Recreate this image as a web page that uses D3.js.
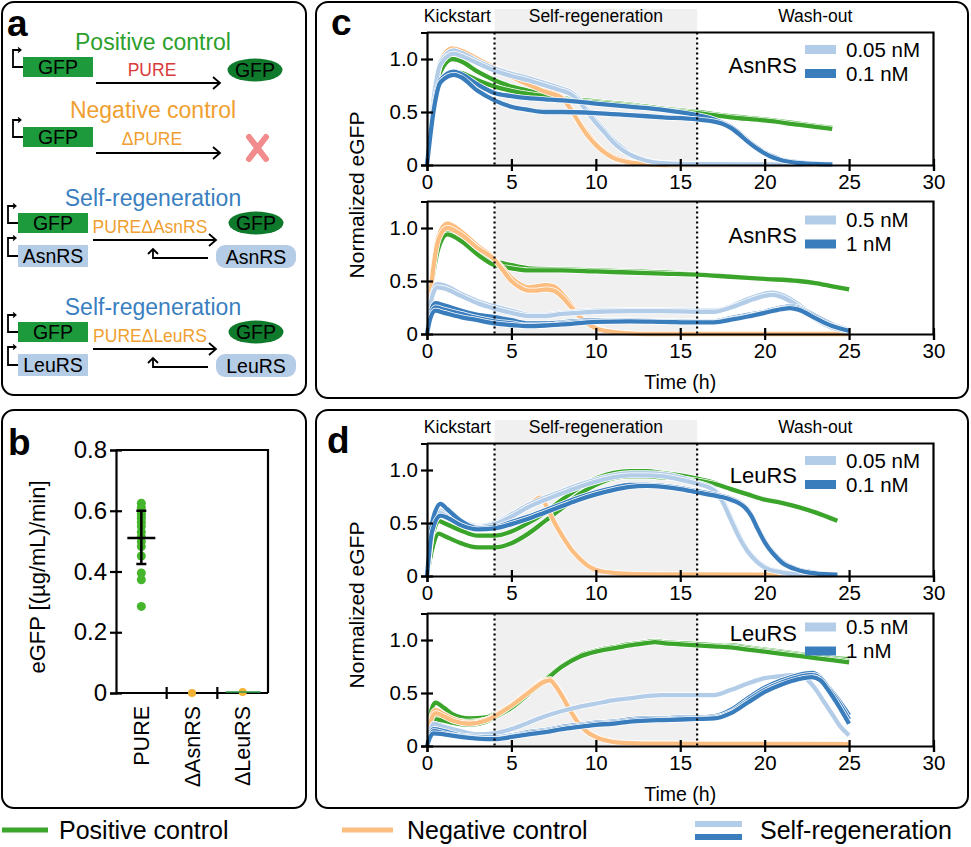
<!DOCTYPE html>
<html><head><meta charset="utf-8">
<script src="https://cdn.jsdelivr.net/npm/d3@7"></script>
<style>body{margin:0;background:#fff} svg{display:block;font-family:"Liberation Sans",Arial,Helvetica,sans-serif}</style>
</head><body><svg id="fig" width="971" height="847"></svg>
<script>
// ---------------- DATA ----------------
const xTicks = [0,5,10,15,20,25,30];
const yTicks = [0,0.5,1.0];
const phaseLabels = ["Kickstart","Self-regeneration","Wash-out"];
const phaseCenters = [1.8,10,23];
const phaseBounds = [4,16];

// panel b
const bCategories = ["PURE","\u0394AsnRS","\u0394LeuRS"];
const bTicks = [0,0.2,0.4,0.6,0.8];
const bPureDots = [0.625,0.611,0.592,0.583,0.575,0.562,0.548,0.53,0.515,0.498,0.482,0.451,0.395,0.373,0.285];
const bPureMean = 0.51, bPureSdLow = 0.425, bPureSdHigh = 0.6;
const bNegDots = [0,0.003];

// panel c top (AsnRS 0.05 / 0.1 nM)
const cTopPos = [
 [[0,0],[0.4,0.6],[0.8,0.88],[1.5,1.0],[2,0.98],[3,0.88],[4,0.8],[5,0.74],[6,0.70],[7,0.66],[8,0.63],[10,0.6],[12,0.57],[14,0.53],[16,0.5],[18,0.46],[20,0.43],[22,0.39],[24,0.35]],
 [[0,0],[0.4,0.55],[0.8,0.8],[1.6,0.88],[2,0.87],[3,0.8],[4,0.74],[5,0.70],[6,0.67],[7,0.65],[8,0.62],[10,0.59],[12,0.56],[14,0.52],[16,0.49],[18,0.45],[20,0.42],[22,0.38],[24,0.34]]];
const cTopNeg = [
 [[0,0],[0.4,0.65],[0.8,0.98],[1.5,1.1],[2,1.08],[3,1.0],[4,0.92],[5,0.85],[6,0.77],[7,0.70],[8,0.64],[8.5,0.54],[9,0.41],[9.5,0.3],[10,0.2],[10.5,0.13],[11,0.08],[12,0.03],[13,0.01],[14,0],[24,0]],
 [[0,0],[0.4,0.62],[0.8,0.95],[1.5,1.07],[2,1.05],[3,0.97],[4,0.9],[5,0.83],[6,0.76],[7,0.69],[8,0.63],[8.5,0.53],[9,0.4],[9.5,0.28],[10,0.19],[10.5,0.12],[11,0.07],[12,0.025],[13,0.008],[14,0],[24,0]]];
const cTopLight = [
 [[0,0],[0.4,0.65],[0.8,0.97],[1.6,1.08],[2,1.06],[3,0.98],[4,0.91],[5,0.86],[6,0.82],[7,0.77],[8,0.72],[8.5,0.69],[9,0.62],[9.5,0.52],[10,0.42],[10.5,0.33],[11,0.24],[11.5,0.17],[12,0.11],[12.5,0.07],[13,0.045],[14,0.02],[16,0.01],[24,0.005]],
 [[0,0],[0.4,0.63],[0.8,0.95],[1.6,1.05],[2,1.03],[3,0.96],[4,0.89],[5,0.84],[6,0.8],[7,0.75],[8,0.7],[8.5,0.67],[9,0.6],[9.5,0.5],[10,0.4],[10.5,0.31],[11,0.22],[11.5,0.15],[12,0.1],[12.5,0.065],[13,0.04],[14,0.018],[16,0.008],[24,0.004]]];
const cTopDark = [
 [[0,0],[0.4,0.55],[0.8,0.8],[1.6,0.88],[2,0.86],[3,0.76],[4,0.68],[5,0.65],[6,0.63],[7,0.62],[8,0.61],[10,0.58],[12,0.55],[14,0.52],[16,0.47],[17,0.43],[17.5,0.40],[18,0.36],[18.5,0.3],[19,0.23],[19.5,0.17],[20,0.12],[20.5,0.08],[21,0.05],[22,0.025],[23,0.012],[24,0.008]],
 [[0,0],[0.4,0.52],[0.8,0.78],[1.6,0.85],[2,0.83],[3,0.7],[4,0.61],[5,0.55],[6,0.52],[7,0.5],[8,0.5],[10,0.49],[12,0.47],[14,0.45],[16,0.43],[17,0.41],[17.5,0.39],[18,0.35],[18.5,0.29],[19,0.22],[19.5,0.16],[20,0.11],[20.5,0.07],[21,0.045],[22,0.02],[23,0.01],[24,0.005]]];

// panel c bottom (AsnRS 0.5 / 1 nM)
const cBotPos = [
 [[0,0],[0.3,0.5],[0.7,0.85],[1.2,0.97],[2,0.9],[3,0.78],[4,0.69],[5,0.65],[6,0.62],[8,0.61],[10,0.6],[12,0.59],[14,0.58],[16,0.56],[18,0.54],[20,0.52],[22,0.5],[23,0.48],[24,0.45],[25,0.42]],
 [[0,0],[0.3,0.48],[0.7,0.82],[1.2,0.94],[2,0.88],[3,0.75],[4,0.65],[5,0.62],[6,0.6],[8,0.6],[10,0.59],[12,0.58],[14,0.57],[16,0.56],[18,0.54],[20,0.52],[22,0.5],[23,0.48],[24,0.45],[25,0.42]]];
const cBotNeg = [
 [[0,0],[0.3,0.55],[0.7,0.93],[1.2,1.04],[2,0.97],[3,0.83],[4,0.71],[4.5,0.62],[5,0.53],[5.5,0.47],[6,0.44],[6.5,0.45],[7,0.46],[7.5,0.45],[8,0.38],[8.5,0.28],[9,0.18],[9.5,0.11],[10,0.06],[11,0.02],[12,0.005],[13,0],[25,0]],
 [[0,0],[0.3,0.52],[0.7,0.9],[1.2,1.0],[2,0.94],[3,0.81],[4,0.7],[4.5,0.6],[5,0.5],[5.5,0.44],[6,0.41],[6.5,0.41],[7,0.42],[7.5,0.41],[8,0.35],[8.5,0.26],[9,0.17],[9.5,0.1],[10,0.055],[11,0.02],[12,0.005],[13,0],[25,0]]];
const cBotLight = [
 [[0,0],[0.2,0.3],[0.6,0.47],[1,0.46],[2,0.38],[3,0.31],[4,0.26],[5,0.22],[6,0.18],[7,0.18],[8,0.2],[9,0.21],[10,0.22],[12,0.225],[14,0.225],[16,0.22],[17,0.22],[18,0.26],[19,0.33],[20,0.38],[20.5,0.39],[21,0.37],[22,0.28],[23,0.15],[24,0.07],[25,0.03]],
 [[0,0],[0.2,0.28],[0.6,0.44],[1,0.43],[2,0.36],[3,0.29],[4,0.24],[5,0.2],[6,0.17],[7,0.17],[8,0.19],[9,0.2],[10,0.21],[12,0.215],[14,0.215],[16,0.21],[17,0.21],[18,0.25],[19,0.31],[20,0.36],[20.5,0.37],[21,0.35],[22,0.26],[23,0.14],[24,0.06],[25,0.025]]];
const cBotDark = [
 [[0,0],[0.2,0.2],[0.5,0.29],[1,0.27],[2,0.22],[3,0.18],[4,0.16],[5,0.13],[6,0.1],[7,0.1],[8,0.11],[10,0.13],[12,0.13],[14,0.12],[16,0.12],[17,0.12],[18,0.15],[19,0.18],[20,0.21],[21,0.25],[21.5,0.26],[22,0.25],[23,0.17],[24,0.09],[25,0.04]],
 [[0,0],[0.2,0.17],[0.5,0.25],[1,0.23],[2,0.19],[3,0.15],[4,0.12],[5,0.1],[6,0.08],[7,0.08],[8,0.1],[10,0.12],[12,0.125],[14,0.12],[16,0.115],[17,0.115],[18,0.14],[19,0.17],[20,0.2],[21,0.24],[21.5,0.25],[22,0.24],[23,0.16],[24,0.08],[25,0.035]],
 [[0,0],[0.2,0.15],[0.5,0.22],[1,0.2],[2,0.16],[3,0.13],[4,0.1],[5,0.085],[6,0.075],[7,0.08],[8,0.09],[10,0.115],[12,0.12],[14,0.115],[16,0.11],[17,0.11],[18,0.135],[19,0.165],[20,0.2],[21,0.235],[21.5,0.245],[22,0.23],[23,0.15],[24,0.075],[25,0.03]]];

// panel d top (LeuRS 0.05 / 0.1 nM)
const dTopPos = [
 [[0,0],[0.3,0.35],[0.7,0.52],[1,0.5],[2,0.43],[3,0.38],[4,0.38],[5,0.42],[6,0.5],[7,0.6],[8,0.72],[9,0.83],[10,0.92],[11,0.97],[12,0.99],[13,0.99],[14,0.97],[15,0.95],[16,0.92],[17,0.88],[18,0.82],[19,0.77],[20,0.72],[21,0.69],[22,0.65],[23,0.6],[24.3,0.52]],
 [[0,0],[0.3,0.25],[0.7,0.4],[1,0.38],[2,0.31],[3,0.27],[4,0.27],[5,0.31],[6,0.4],[7,0.52],[8,0.64],[9,0.77],[10,0.86],[11,0.92],[12,0.94],[13,0.94],[14,0.93],[15,0.92],[16,0.9],[17,0.87],[18,0.82],[19,0.77],[20,0.72],[21,0.69],[22,0.65],[23,0.6],[24.3,0.52]]];
const dTopNeg = [
 [[0,0],[0.3,0.4],[0.7,0.6],[1,0.58],[2,0.5],[3,0.46],[4,0.48],[5,0.56],[6,0.66],[6.7,0.74],[7,0.68],[7.5,0.52],[8,0.38],[8.5,0.26],[9,0.17],[9.5,0.1],[10,0.06],[11,0.03],[12,0.02],[14,0.015],[24.3,0.01]]];
const dTopLight = [
 [[0,0],[0.3,0.45],[0.7,0.62],[1,0.6],[2,0.52],[3,0.47],[4,0.5],[5,0.58],[6,0.67],[7,0.74],[8,0.8],[9,0.86],[10,0.91],[11,0.95],[12,0.97],[13,0.97],[14,0.96],[15,0.93],[16,0.88],[17,0.82],[17.5,0.72],[18,0.55],[18.5,0.38],[19,0.24],[19.5,0.15],[20,0.09],[21,0.04],[22,0.02],[23,0.01],[24.3,0.005]],
 [[0,0],[0.3,0.42],[0.7,0.6],[1,0.58],[2,0.5],[3,0.46],[4,0.49],[5,0.56],[6,0.65],[7,0.72],[8,0.78],[9,0.84],[10,0.89],[11,0.93],[12,0.95],[13,0.95],[14,0.94],[15,0.91],[16,0.87],[17,0.81],[17.5,0.7],[18,0.53],[18.5,0.36],[19,0.23],[19.5,0.14],[20,0.08],[21,0.035],[22,0.015],[23,0.008],[24.3,0.004]]];
const dTopDark = [
 [[0,0],[0.3,0.5],[0.8,0.68],[1.2,0.63],[2,0.52],[3,0.45],[4,0.46],[5,0.51],[6,0.56],[7,0.62],[8,0.68],[9,0.74],[10,0.79],[11,0.83],[12,0.86],[13,0.86],[14,0.85],[15,0.83],[16,0.8],[17,0.77],[18,0.73],[18.8,0.66],[19.2,0.58],[19.6,0.45],[20,0.33],[20.5,0.22],[21,0.14],[22,0.06],[23,0.03],[24.3,0.015]],
 [[0,0],[0.3,0.42],[0.8,0.57],[1.2,0.55],[2,0.48],[3,0.44],[4,0.45],[5,0.49],[6,0.54],[7,0.6],[8,0.66],[9,0.72],[10,0.77],[11,0.81],[12,0.84],[13,0.85],[14,0.84],[15,0.82],[16,0.79],[17,0.76],[18,0.72],[18.8,0.65],[19.2,0.57],[19.6,0.44],[20,0.32],[20.5,0.21],[21,0.13],[22,0.055],[23,0.025],[24.3,0.012]]];

// panel d bottom (LeuRS 0.5 / 1 nM)
const dBotPos = [
 [[0,0],[0.2,0.3],[0.5,0.41],[1,0.36],[1.5,0.3],[2.5,0.26],[3.5,0.27],[4,0.3],[5,0.38],[6,0.5],[7,0.63],[8,0.76],[9,0.85],[10,0.9],[11,0.93],[12,0.96],[13,0.98],[13.5,0.99],[14,0.98],[15,0.97],[16,0.96],[17,0.95],[18,0.95],[19,0.93],[20,0.91],[21,0.89],[22,0.87],[23,0.85],[24,0.83],[25,0.82]],
 [[0,0],[0.2,0.2],[0.5,0.28],[1,0.27],[1.5,0.25],[2.5,0.23],[3.5,0.25],[4,0.28],[5,0.37],[6,0.5],[7,0.63],[8,0.76],[9,0.85],[10,0.9],[11,0.93],[12,0.96],[13,0.98],[13.5,0.99],[14,0.98],[15,0.97],[16,0.96],[17,0.95],[18,0.94],[19,0.92],[20,0.9],[21,0.88],[22,0.86],[23,0.84],[24,0.82],[25,0.8]],
 [[0,0],[0.2,0.17],[0.5,0.25],[1,0.24],[1.5,0.22],[2.5,0.2],[3.5,0.23],[4,0.27],[5,0.36],[6,0.49],[7,0.62],[8,0.75],[9,0.84],[10,0.89],[11,0.92],[12,0.95],[13,0.97],[13.5,0.98],[14,0.97],[15,0.96],[16,0.95],[17,0.94],[18,0.93],[19,0.91],[20,0.89],[21,0.87],[22,0.85],[23,0.83],[24,0.81],[25,0.79]]];
const dBotNeg = [
 [[0,0],[0.2,0.25],[0.5,0.34],[1,0.3],[1.5,0.26],[2.5,0.22],[3.5,0.25],[4,0.29],[5,0.39],[6,0.51],[7,0.62],[7.3,0.63],[7.6,0.58],[8,0.48],[8.5,0.34],[9,0.22],[9.5,0.14],[10,0.09],[11,0.045],[12,0.03],[14,0.025],[25,0.02]],
 [[0,0],[0.2,0.22],[0.5,0.31],[1,0.28],[1.5,0.24],[2.5,0.21],[3.5,0.24],[4,0.28],[5,0.38],[6,0.5],[7,0.61],[7.3,0.62],[7.6,0.57],[8,0.47],[8.5,0.33],[9,0.21],[9.5,0.13],[10,0.085],[11,0.04],[12,0.028],[14,0.022],[25,0.018]]];
const dBotLight = [
 [[0,0],[0.2,0.15],[0.4,0.21],[1,0.18],[2,0.14],[3,0.11],[4,0.12],[5,0.16],[6,0.22],[7,0.28],[8,0.33],[9,0.37],[10,0.4],[11,0.43],[12,0.45],[13,0.47],[14,0.48],[15,0.48],[16,0.48],[17,0.48],[18,0.53],[19,0.59],[20,0.64],[21,0.66],[22,0.67],[22.5,0.63],[23,0.54],[23.5,0.42],[24,0.3],[24.5,0.18],[25,0.1]]];
const dBotDark = [
 [[0,0],[0.2,0.12],[0.4,0.16],[1,0.14],[2,0.1],[3,0.085],[4,0.08],[5,0.1],[6,0.13],[7,0.15],[8,0.18],[9,0.2],[10,0.22],[11,0.23],[12,0.25],[13,0.26],[14,0.26],[15,0.27],[16,0.27],[17,0.28],[18,0.34],[19,0.45],[20,0.55],[21,0.62],[22,0.67],[22.8,0.69],[23.3,0.65],[23.8,0.55],[24.3,0.45],[25,0.29]],
 [[0,0],[0.2,0.1],[0.4,0.14],[1,0.12],[2,0.09],[3,0.075],[4,0.07],[5,0.09],[6,0.12],[7,0.14],[8,0.17],[9,0.19],[10,0.21],[11,0.22],[12,0.24],[13,0.25],[14,0.25],[15,0.26],[16,0.26],[17,0.27],[18,0.32],[19,0.43],[20,0.53],[21,0.6],[22,0.65],[22.8,0.67],[23.3,0.64],[23.8,0.54],[24.3,0.43],[25,0.25]],
 [[0,0],[0.2,0.09],[0.4,0.12],[1,0.11],[2,0.085],[3,0.07],[4,0.065],[5,0.085],[6,0.11],[7,0.13],[8,0.16],[9,0.18],[10,0.2],[11,0.21],[12,0.23],[13,0.24],[14,0.245],[15,0.25],[16,0.255],[17,0.26],[18,0.31],[19,0.41],[20,0.51],[21,0.58],[22,0.63],[22.8,0.65],[23.3,0.62],[23.8,0.52],[24.3,0.4],[25,0.21]]];

const legendLabels = ["Positive control","Negative control","Self-regeneration"];

// ---------------- STYLE ----------------
const C = {green:"#3aa52a", orange:"#fbbd80", light:"#b3cde8", dark:"#3a7dbd",
  gfpBox:"#1d9a3b", gfpEll:"#0f7a2c", txtGreen:"#2ca02c", txtOrange:"#f0a030", red:"#d93a3a",
  txtBlue:"#3b7fc0", rsBox:"#b5cce6", cross:"#f28b8b", shade:"#f0f0f0"};
const svg = d3.select("#fig");

// panel boxes
[[2,2,304,393],[2,410,304,398],[316,2,652,396],[316,410,652,398]].forEach(b=>{
  svg.append("rect").attr("x",b[0]).attr("y",b[1]).attr("width",b[2]).attr("height",b[3])
    .attr("rx",12).attr("fill","none").attr("stroke","#000").attr("stroke-width",2);
});
// panel letters
[["a",7,36],["b",8,455],["c",331,35],["d",327,453]].forEach(l=>{
  svg.append("text").attr("x",l[1]).attr("y",l[2]).text(l[0]).attr("font-size",37).attr("font-weight","bold");
});

// ---------------- PANEL A ----------------
const A = svg.append("g");
function promoter(x0,yTop,h){
  const mid=yTop+h/2;
  A.append("path").attr("d",`M${x0},${mid}H${x0-10}V${yTop-7}H${x0-3}`).attr("fill","none").attr("stroke","#000").attr("stroke-width",1.8);
  A.append("path").attr("d",`M${x0-5},${yTop-9.5}L${x0-2},${yTop-7}L${x0-5},${yTop-4.5}`).attr("fill","none").attr("stroke","#000").attr("stroke-width",1.2);
}
function geneBox(x,y,w,h,fill,label){
  A.append("rect").attr("x",x).attr("y",y).attr("width",w).attr("height",h).attr("fill",fill);
  A.append("text").attr("x",x+w/2).attr("y",y+h/2).attr("dy","0.36em").attr("text-anchor","middle").attr("font-size",19.5).text(label);
  promoter(x,y,h);
}
function arrowR(x1,x2,y){
  A.append("path").attr("d",`M${x1},${y}H${x2}`).attr("stroke","#000").attr("stroke-width",1.8);
  A.append("path").attr("d",`M${x2-7},${y-6}L${x2},${y}L${x2-7},${y+6}`).attr("fill","none").attr("stroke","#000").attr("stroke-width",1.8);
}
function ellipse(cx,cy,label){
  A.append("ellipse").attr("cx",cx).attr("cy",cy).attr("rx",27.5).attr("ry",11.5).attr("fill",C.gfpEll);
  A.append("text").attr("x",cx).attr("y",cy).attr("dy","0.36em").attr("text-anchor","middle").attr("font-size",19.5).text(label);
}
function title(t,y,col){ A.append("text").attr("x",153).attr("y",y).attr("dy","0.36em").attr("text-anchor","middle").attr("font-size",23).attr("fill",col).text(t); }
function small(t,x,y,col){ A.append("text").attr("x",x).attr("y",y).attr("dy","0.36em").attr("text-anchor","middle").attr("font-size",17.5).attr("fill",col).text(t); }

title("Positive control",42,C.txtGreen);
geneBox(23,57,70,20,C.gfpBox,"GFP");
small("PURE",152,70,C.red);
arrowR(96,220,83);
ellipse(255,70,"GFP");

title("Negative control",110,C.txtOrange);
geneBox(23,127,70,20,C.gfpBox,"GFP");
small("\u0394PURE",152,139,C.txtOrange);
arrowR(96,220,153);
A.append("path").attr("d","M249,137L266,159M266,137L249,159").attr("stroke",C.cross).attr("stroke-width",6).attr("stroke-linecap","round");

function regen(y0,gene,prot){
  title("Self-regeneration",y0,C.txtBlue);
  geneBox(18,y0+15,70,20,C.gfpBox,"GFP");
  geneBox(18,y0+47,70,22,C.rsBox,prot);
  small(gene,150,y0+29,C.txtOrange);
  arrowR(93,216,y0+42);
  ellipse(256,y0+25,"GFP");
  A.append("rect").attr("x",216).attr("y",y0+47).attr("width",80).attr("height",23).attr("rx",9).attr("fill",C.rsBox);
  A.append("text").attr("x",256).attr("y",y0+58.5).attr("dy","0.36em").attr("text-anchor","middle").attr("font-size",19.5).text(prot);
  A.append("path").attr("d",`M208,${y0+60}H153V${y0+52}`).attr("fill","none").attr("stroke","#000").attr("stroke-width",1.8);
  A.append("path").attr("d",`M148,${y0+56}L153,${y0+51}L158,${y0+56}`).attr("fill","none").attr("stroke","#000").attr("stroke-width",1.8);
}
regen(198,"PURE\u0394AsnRS","AsnRS");
regen(307,"PURE\u0394LeuRS","LeuRS");

// ---------------- PANEL B ----------------
const B = svg.append("g");
const bx = d3.scaleBand().domain(bCategories).range([116,268]);
const by = d3.scaleLinear().domain([0,0.8]).range([693,450]);
B.append("path").attr("d",`M116,${by(0.8)}H268V${by(0)}`).attr("fill","none").attr("stroke","#000").attr("stroke-width",2.2);
const byAxis = B.append("g").attr("transform","translate(116,0)")
  .call(d3.axisLeft(by).tickValues(bTicks).tickFormat(d=>d===0?"0":d3.format(".1f")(d)).tickSizeOuter(0).tickSize(6));
byAxis.select(".domain").attr("stroke-width",2.2);
byAxis.selectAll(".tick line").attr("x1",6).attr("x2",-6).attr("stroke-width",2.2);
byAxis.selectAll(".tick text").attr("font-size",24).attr("font-family",null).attr("x",-9);
const bxAxis = B.append("g").attr("transform",`translate(0,${by(0)})`);
bxAxis.append("line").attr("x1",116).attr("x2",268).attr("stroke","#000").attr("stroke-width",2.2);
bCategories.slice(1).forEach(c=>{
  bxAxis.append("line").attr("x1",bx(c)).attr("x2",bx(c)).attr("y1",-6).attr("y2",6).attr("stroke","#000").attr("stroke-width",2.2);
});
bCategories.forEach(c=>{
  B.append("text").attr("transform",`translate(${bx(c)+bx.bandwidth()/2},706) rotate(-90)`)
   .attr("text-anchor","end").attr("dy","0.36em").attr("font-size",21.5).text(c);
});
B.append("text").attr("transform","translate(37,577) rotate(-90)").attr("text-anchor","middle").attr("dy","0.36em")
  .attr("font-size",22).text("eGFP [(\u00b5g/mL)/min]");
const pureX = bx("PURE")+bx.bandwidth()/2;
B.selectAll(".pd").data(bPureDots).enter().append("circle").attr("cx",pureX).attr("cy",d=>by(d)).attr("r",4.5).attr("fill","#45b52b");
B.append("path").attr("d",`M${pureX},${by(bPureSdLow)}V${by(bPureSdHigh)}M${pureX-5},${by(bPureSdLow)}H${pureX+5}M${pureX-5},${by(bPureSdHigh)}H${pureX+5}M${pureX-14},${by(bPureMean)}H${pureX+14}`)
  .attr("stroke","#000").attr("stroke-width",2.5).attr("fill","none");
["\u0394AsnRS","\u0394LeuRS"].forEach((c,i)=>{
  B.append("circle").attr("cx",bx(c)+bx.bandwidth()/2).attr("cy",by(bNegDots[i])).attr("r",4).attr("fill","#f2b233");
});
B.append("line").attr("x1",bx("\u0394LeuRS")+bx.bandwidth()/2-17).attr("x2",bx("\u0394LeuRS")+bx.bandwidth()/2+18)
  .attr("y1",by(0)-1).attr("y2",by(0)-1).attr("stroke","#2a9a4a").attr("stroke-width",1.5);

// ---------------- PANELS C / D ----------------
const x = d3.scaleLinear().domain([0,30]).range([427,933.5]);
function subplot(o){
  const g = svg.append("g");
  const y = d3.scaleLinear().domain([0,1.25]).range([o.y0,o.y0-132.5]);
  const top = y(1.25);
  g.append("rect").attr("x",x(phaseBounds[0])).attr("width",x(phaseBounds[1])-x(phaseBounds[0]))
    .attr("y",o.header?o.headerTop:top).attr("height",o.y0-(o.header?o.headerTop:top)).attr("fill",C.shade);
  if(o.header){
    phaseLabels.forEach((t,i)=>g.append("text").attr("x",x(phaseCenters[i])).attr("y",top-10.5).attr("text-anchor","middle").attr("font-size",17.5).text(t));
  }
  const line = d3.line().x(d=>x(d[0])).y(d=>y(d[1])).curve(d3.curveMonotoneX);
  const groups = [[o.pos,C.green],[o.neg,C.orange],[o.light,C.light],[o.dark,C.dark]];
  groups.forEach(([reps,col])=>{
    reps.forEach(r=>{
      g.append("path").attr("d",line(r)).attr("fill","none").attr("stroke","#fff").attr("stroke-width",5.8).attr("stroke-linejoin","round");
      g.append("path").attr("d",line(r)).attr("fill","none").attr("stroke",col).attr("stroke-width",4.3).attr("stroke-linejoin","round");
    });
  });
  phaseBounds.forEach(b=>g.append("line").attr("x1",x(b)).attr("x2",x(b)).attr("y1",top).attr("y2",o.y0)
    .attr("stroke","#000").attr("stroke-width",2.2).attr("stroke-dasharray","2,3"));
  g.append("path").attr("d",`M${x(0)},${top}H${x(30)}V${o.y0}`).attr("fill","none").attr("stroke","#000").attr("stroke-width",2.2);
  const xa = g.append("g").attr("transform",`translate(0,${o.y0})`)
    .call(d3.axisBottom(x).tickValues(xTicks).tickSizeOuter(0).tickSize(6));
  xa.select(".domain").attr("stroke-width",2.2);
  xa.selectAll(".tick line").attr("y1",-6).attr("y2",6).attr("stroke-width",2.2);
  xa.selectAll(".tick text").attr("font-size",20.5).attr("font-family",null).attr("y",9);
  const ya = g.append("g").attr("transform",`translate(${x(0)},0)`)
    .call(d3.axisLeft(y).tickValues(yTicks).tickFormat(d=>d===0?"0":d3.format(".1f")(d)).tickSizeOuter(0).tickSize(6));
  ya.select(".domain").attr("stroke-width",2.2);
  ya.selectAll(".tick line").attr("x1",6).attr("x2",-6).attr("stroke-width",2.2);
  ya.selectAll(".tick text").attr("font-size",20.5).attr("font-family",null).attr("x",-9);
  const ly = top + o.legDy;
  g.append("rect").attr("x",805).attr("y",ly+17-4.5).attr("width",31).attr("height",9).attr("fill",C.light);
  g.append("rect").attr("x",805).attr("y",ly+41-4.5).attr("width",31).attr("height",9).attr("fill",C.dark);
  g.append("text").attr("x",846).attr("y",ly+17).attr("dy","0.36em").attr("font-size",20.5).text(o.l1);
  g.append("text").attr("x",846).attr("y",ly+41).attr("dy","0.36em").attr("font-size",20.5).text(o.l2);
  g.append("text").attr("x",797).attr("y",top+o.geneDy).attr("dy","0.36em").attr("text-anchor","end").attr("font-size",22).text(o.gene);
  if(o.xlabel) g.append("text").attr("x",x(15)).attr("y",o.y0+48).attr("dy","0.36em").attr("text-anchor","middle").attr("font-size",19.5).text("Time (h)");
}
subplot({y0:165,header:true,headerTop:9,pos:cTopPos,neg:cTopNeg,light:cTopLight,dark:cTopDark,gene:"AsnRS",l1:"0.05 nM",l2:"0.1 nM",legDy:0,geneDy:32.5});
subplot({y0:334,header:false,pos:cBotPos,neg:cBotNeg,light:cBotLight,dark:cBotDark,gene:"AsnRS",l1:"0.5 nM",l2:"1 nM",legDy:1.5,geneDy:33.5,xlabel:true});
subplot({y0:576,header:true,headerTop:420,pos:dTopPos,neg:dTopNeg,light:dTopLight,dark:dTopDark,gene:"LeuRS",l1:"0.05 nM",l2:"0.1 nM",legDy:0,geneDy:31.5});
subplot({y0:746,header:false,pos:dBotPos,neg:dBotNeg,light:dBotLight,dark:dBotDark,gene:"LeuRS",l1:"0.5 nM",l2:"1 nM",legDy:-3.5,geneDy:19.5,xlabel:true});

[[356,195],[356,605]].forEach(p=>svg.append("text").attr("transform",`translate(${p[0]},${p[1]}) rotate(-90)`)
  .attr("text-anchor","middle").attr("dy","0.36em").attr("font-size",21).text("Normalized eGFP"));

// ---------------- BOTTOM LEGEND ----------------
const L = svg.append("g");
L.append("line").attr("x1",2).attr("x2",48).attr("y1",830).attr("y2",830).attr("stroke",C.green).attr("stroke-width",5);
L.append("line").attr("x1",342).attr("x2",393).attr("y1",830).attr("y2",830).attr("stroke",C.orange).attr("stroke-width",5);
L.append("line").attr("x1",695).attr("x2",742).attr("y1",824).attr("y2",824).attr("stroke",C.light).attr("stroke-width",6);
L.append("line").attr("x1",695).attr("x2",742).attr("y1",837).attr("y2",837).attr("stroke",C.dark).attr("stroke-width",6);
[[59,legendLabels[0]],[407,legendLabels[1]],[760,legendLabels[2]]].forEach(t=>
  L.append("text").attr("x",t[0]).attr("y",830).attr("dy","0.36em").attr("font-size",25).text(t[1]));
</script></body></html>
